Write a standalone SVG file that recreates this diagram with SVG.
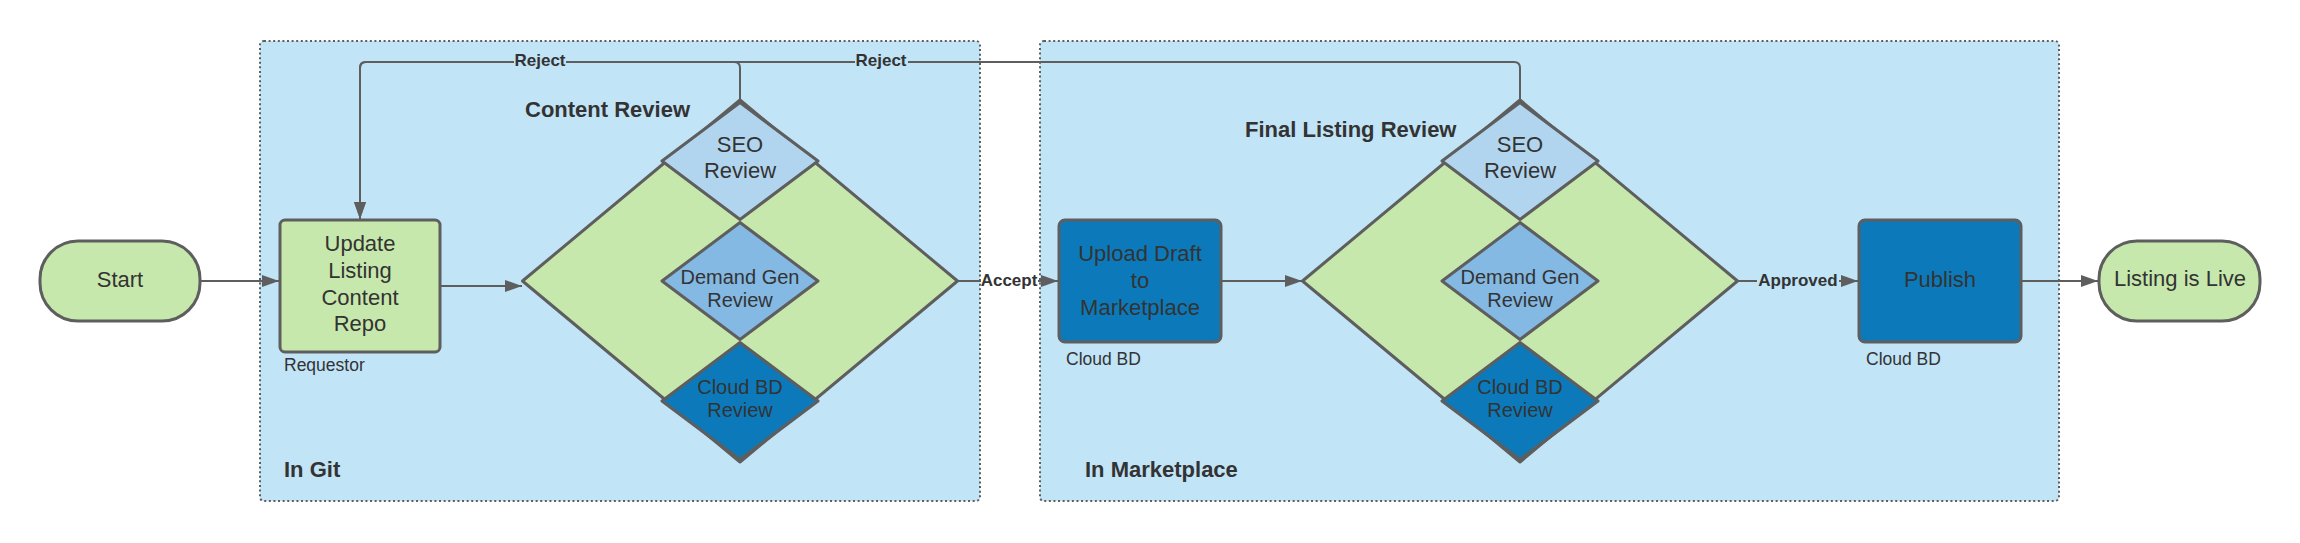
<svg xmlns="http://www.w3.org/2000/svg" width="2300" height="543" viewBox="0 0 2300 543">
  <defs>
    <style>
      .t { font-family: "Liberation Sans", Arial, sans-serif; fill: #333333; }
      .n22 { font-size: 22px; text-anchor: middle; }
      .n20 { font-size: 20px; text-anchor: middle; }
      .sm { font-size: 17.5px; }
      .b22 { font-size: 22px; font-weight: bold; }
      .lbl { font-size: 17px; font-weight: bold; text-anchor: middle; }
      .grp { fill: #c1e4f7; stroke: #5e5e5e; stroke-width: 2; stroke-dasharray: 2 2.6; }
      .shape { stroke: #5e5e5e; stroke-width: 3; stroke-linejoin: round; }
      .green { fill: #c7e8ac; }
      .seo { fill: #b2d5ef; }
      .dg { fill: #83b9e3; }
      .cbd { fill: #0c7aba; }
      .conn { fill: none; stroke: #5e5e5e; stroke-width: 2; }
    </style>
    <marker id="arr" markerUnits="userSpaceOnUse" markerWidth="18" markerHeight="13" refX="17" refY="6" orient="auto">
      <path d="M0,0 L17,6 L0,12 Z" fill="#5e5e5e"/>
    </marker>
  </defs>

  <g id="group-git">
    <rect class="grp" x="260" y="41" width="720" height="460" rx="4"/>
    <text class="t b22" x="284" y="477">In Git</text>
    <text class="t b22" x="525" y="117">Content Review</text>
  </g>
  <g id="group-marketplace">
    <rect class="grp" x="1040" y="41" width="1019" height="460" rx="4"/>
    <text class="t b22" x="1085" y="477">In Marketplace</text>
    <text class="t b22" x="1245" y="137">Final Listing Review</text>
  </g>

  <g id="connectors">
    <line class="conn" x1="200" y1="281" x2="279" y2="281" marker-end="url(#arr)"/>
    <line class="conn" x1="440" y1="286" x2="522" y2="286" marker-end="url(#arr)"/>
    <line class="conn" x1="957" y1="281" x2="981" y2="281"/>
    <line class="conn" x1="1038" y1="281" x2="1058" y2="281" marker-end="url(#arr)"/>
    <line class="conn" x1="1221" y1="281" x2="1302" y2="281" marker-end="url(#arr)"/>
    <line class="conn" x1="1737" y1="281" x2="1757" y2="281"/>
    <line class="conn" x1="1839" y1="281" x2="1858" y2="281" marker-end="url(#arr)"/>
    <line class="conn" x1="2021" y1="281" x2="2098" y2="281" marker-end="url(#arr)"/>
    <path class="conn" d="M740,102 V68 Q740,62 734,62 H366 Q360,62 360,68 V219" marker-end="url(#arr)"/>
    <path class="conn" d="M1520,102 V68 Q1520,62 1514,62 H366 Q360,62 360,68 V219" marker-end="url(#arr)"/>
    <rect x="514" y="52" width="52" height="18" fill="#c1e4f7"/>
    <rect x="855" y="52" width="53" height="18" fill="#c1e4f7"/>
    <text class="t lbl" x="540" y="66">Reject</text>
    <text class="t lbl" x="881" y="66">Reject</text>
    <text class="t lbl" x="1009" y="286">Accept</text>
    <text class="t lbl" x="1798" y="286">Approved</text>
  </g>

  <g id="start">
    <rect class="shape green" x="40" y="241" width="160" height="80" rx="38"/>
    <text class="t n22" x="120" y="287">Start</text>
  </g>

  <g id="update-listing">
    <rect class="shape green" x="280" y="220" width="160" height="132" rx="5"/>
    <text class="t n22" x="360" y="251">Update</text>
    <text class="t n22" x="360" y="278">Listing</text>
    <text class="t n22" x="360" y="305">Content</text>
    <text class="t n22" x="360" y="331">Repo</text>
    <text class="t sm" x="284" y="371">Requestor</text>
  </g>

  <g id="content-review">
    <polygon class="shape green" points="740,100 957.5,281 740,462 522.5,281"/>
  </g>
  <g id="seo-review-1">
    <polygon class="shape seo" points="740,102.5 818,161 740,219.5 662,161"/>
    <text class="t n22" x="740" y="151.5">SEO</text>
    <text class="t n22" x="740" y="178">Review</text>
  </g>
  <g id="demand-gen-review-1">
    <polygon class="shape dg" points="740,222.5 818,281 740,339.5 662,281"/>
    <text class="t n20" x="740" y="284">Demand Gen</text>
    <text class="t n20" x="740" y="307">Review</text>
  </g>
  <g id="cloud-bd-review-1">
    <polygon class="shape cbd" points="740,342.5 818,401 740,459.5 662,401"/>
    <text class="t n20" x="740" y="394">Cloud BD</text>
    <text class="t n20" x="740" y="417">Review</text>
  </g>

  <g id="upload-draft">
    <rect class="shape cbd" x="1059" y="220" width="162" height="122" rx="6"/>
    <text class="t n22" x="1140" y="260.5">Upload Draft</text>
    <text class="t n22" x="1140" y="288">to</text>
    <text class="t n22" x="1140" y="314.5">Marketplace</text>
    <text class="t sm" x="1066" y="365">Cloud BD</text>
  </g>

  <g id="final-listing-review">
    <polygon class="shape green" points="1520,100 1737.5,281 1520,462 1302.5,281"/>
  </g>
  <g id="seo-review-2">
    <polygon class="shape seo" points="1520,102.5 1598,161 1520,219.5 1442,161"/>
    <text class="t n22" x="1520" y="151.5">SEO</text>
    <text class="t n22" x="1520" y="178">Review</text>
  </g>
  <g id="demand-gen-review-2">
    <polygon class="shape dg" points="1520,222.5 1598,281 1520,339.5 1442,281"/>
    <text class="t n20" x="1520" y="284">Demand Gen</text>
    <text class="t n20" x="1520" y="307">Review</text>
  </g>
  <g id="cloud-bd-review-2">
    <polygon class="shape cbd" points="1520,342.5 1598,401 1520,459.5 1442,401"/>
    <text class="t n20" x="1520" y="394">Cloud BD</text>
    <text class="t n20" x="1520" y="417">Review</text>
  </g>

  <g id="publish">
    <rect class="shape cbd" x="1859" y="220" width="162" height="122" rx="6"/>
    <text class="t n22" x="1940" y="287">Publish</text>
    <text class="t sm" x="1866" y="365">Cloud BD</text>
  </g>

  <g id="listing-live">
    <rect class="shape green" x="2099" y="241" width="161" height="80" rx="38"/>
    <text class="t n22" x="2180" y="286">Listing is Live</text>
  </g>
</svg>
